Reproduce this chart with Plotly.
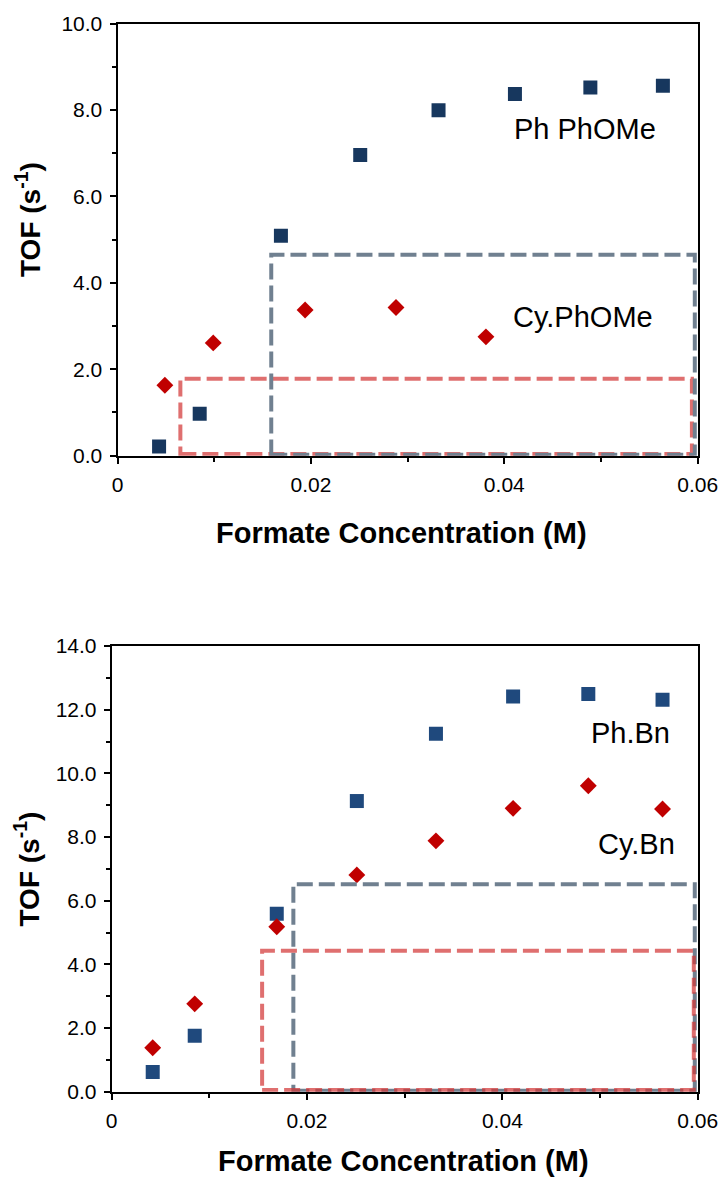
import plotly.graph_objects as go

W, H = 722, 1179

# ---- data (top panel) ----
conc_ph_phome = [0.0043, 0.0085, 0.0169, 0.0251, 0.0332, 0.0411, 0.0489, 0.0564]
tof_ph_phome = [0.21, 0.97, 5.09, 6.96, 7.99, 8.37, 8.52, 8.56]
conc_cy_phome = [0.0049, 0.0099, 0.0194, 0.0288, 0.0381]
tof_cy_phome = [1.63, 2.61, 3.37, 3.43, 2.75]

# ---- data (bottom panel) ----
conc_bn = [0.0042, 0.0085, 0.0169, 0.0251, 0.0332, 0.0411, 0.0488, 0.0564]
tof_ph_bn = [0.62, 1.76, 5.59, 9.13, 11.24, 12.41, 12.49, 12.31]
tof_cy_bn = [1.38, 2.76, 5.18, 6.81, 7.88, 8.90, 9.61, 8.88]

# highlighted regions (x0, x1, y0, y1)
top_gray_box = [0.0159, 0.0597, 0.02, 4.65]
top_red_box = [0.0065, 0.0594, 0.04, 1.78]
bot_gray_box = [0.0186, 0.0597, 0.03, 6.52]
bot_red_box = [0.0154, 0.0596, 0.05, 4.43]

x_ticks = [0, 0.02, 0.04, 0.06]
x_ticktext = ["0", "0.02", "0.04", "0.06"]
top_y_ticks = [0, 2, 4, 6, 8, 10]
bot_y_ticks = [0, 2, 4, 6, 8, 10, 12, 14]

FONT = "Arial, 'Liberation Sans', sans-serif"
NAVY_TOP = "#17375e"
NAVY_BOT = "#1f497d"
RED = "#c00000"
GRAY_DASH = "rgb(112,128,144)"
RED_DASH = "rgba(210,55,55,0.72)"

fig = go.Figure()

fig.add_trace(go.Scatter(x=conc_ph_phome, y=tof_ph_phome, mode="markers",
                         marker=dict(symbol="square", size=14, color=NAVY_TOP),
                         xaxis="x", yaxis="y", showlegend=False))
fig.add_trace(go.Scatter(x=conc_cy_phome, y=tof_cy_phome, mode="markers",
                         marker=dict(symbol="diamond", size=13, color=RED),
                         xaxis="x", yaxis="y", showlegend=False))
fig.add_trace(go.Scatter(x=conc_bn, y=tof_ph_bn, mode="markers",
                         marker=dict(symbol="square", size=14, color=NAVY_BOT),
                         xaxis="x2", yaxis="y2", showlegend=False))
fig.add_trace(go.Scatter(x=conc_bn, y=tof_cy_bn, mode="markers",
                         marker=dict(symbol="diamond", size=13, color=RED),
                         xaxis="x2", yaxis="y2", showlegend=False))


def px_x(p):
    return p / W


def px_y(p):
    return 1 - p / H


def xaxis_cfg(dom, anchor):
    return dict(domain=dom, anchor=anchor, range=[0, 0.06], tickvals=x_ticks,
                ticktext=x_ticktext, showgrid=False, zeroline=False,
                automargin=False,
                showline=True, linecolor="black", linewidth=2, mirror=True,
                ticks="outside", ticklen=6, tickwidth=2, tickcolor="black",
                ticklabelstandoff=3,
                minor=dict(dtick=0.01, tick0=0, ticks="outside", ticklen=4,
                           tickwidth=1.5, tickcolor="black"),
                tickfont=dict(family=FONT, size=21, color="black"))


def yaxis_cfg(dom, anchor, rng, ticks):
    return dict(domain=dom, anchor=anchor, range=rng, tickvals=ticks,
                ticktext=[f"{t:.1f}" for t in ticks], showgrid=False,
                zeroline=False, automargin=False,
                showline=True, linecolor="black", linewidth=2,
                mirror=True, ticks="outside", ticklen=6, tickwidth=2,
                tickcolor="black", ticklabelstandoff=3,
                minor=dict(dtick=1, tick0=0, ticks="outside", ticklen=4,
                           tickwidth=1.5, tickcolor="black"),
                tickfont=dict(family=FONT, size=21, color="black"))


fig.update_layout(
    template="none",
    width=W, height=H, margin=dict(l=0, r=0, t=0, b=0, autoexpand=False),
    paper_bgcolor="white", plot_bgcolor="white",
    xaxis=xaxis_cfg([px_x(117.5), px_x(697.7)], "y"),
    yaxis=yaxis_cfg([px_y(455.7), px_y(23.5)], "x", [0, 10], top_y_ticks),
    xaxis2=xaxis_cfg([px_x(111.7), px_x(697.7)], "y2"),
    yaxis2=yaxis_cfg([px_y(1091.7), px_y(646)], "x2", [0, 14], bot_y_ticks),
)


def box(b, color, xr, yr):
    return dict(type="rect", xref=xr, yref=yr, x0=b[0], x1=b[1], y0=b[2], y1=b[3],
                line=dict(color=color, width=4, dash="16px,6px"),
                fillcolor="rgba(0,0,0,0)", layer="above")


fig.update_layout(shapes=[
    box(top_red_box, RED_DASH, "x", "y"),
    box(top_gray_box, GRAY_DASH, "x", "y"),
    box(bot_gray_box, GRAY_DASH, "x2", "y2"),
    box(bot_red_box, RED_DASH, "x2", "y2"),
])

labels = [
    ("Ph PhOMe", 0.0483, 7.56, "x", "y"),
    ("Cy.PhOMe", 0.0481, 3.22, "x", "y"),
    ("Ph.Bn", 0.0531, 11.26, "x2", "y2"),
    ("Cy.Bn", 0.0537, 7.78, "x2", "y2"),
]
ann = []
for t, x, y, xr, yr in labels:
    ann.append(dict(text=t, x=x, y=y, xref=xr, yref=yr, showarrow=False,
                    xanchor="center", yanchor="middle",
                    font=dict(family=FONT, size=29, color="black")))

title_font = dict(family=FONT, size=29, color="black")
for cx, cy in [(401.5, 533), (403, 1161)]:
    ann.append(dict(text="<b>Formate Concentration (M)</b>", x=px_x(cx), y=px_y(cy),
                    xref="paper", yref="paper", showarrow=False,
                    xanchor="center", yanchor="middle", font=title_font))
for cx, cy in [(28, 219), (28, 868.5)]:
    ann.append(dict(text="<b>TOF (s<sup>-1</sup>)</b>", x=px_x(cx), y=px_y(cy),
                    xref="paper", yref="paper", showarrow=False, textangle=-90,
                    xanchor="center", yanchor="middle",
                    font=dict(family=FONT, size=28, color="black")))
fig.update_layout(annotations=ann)

fig.write_html("out.html")
